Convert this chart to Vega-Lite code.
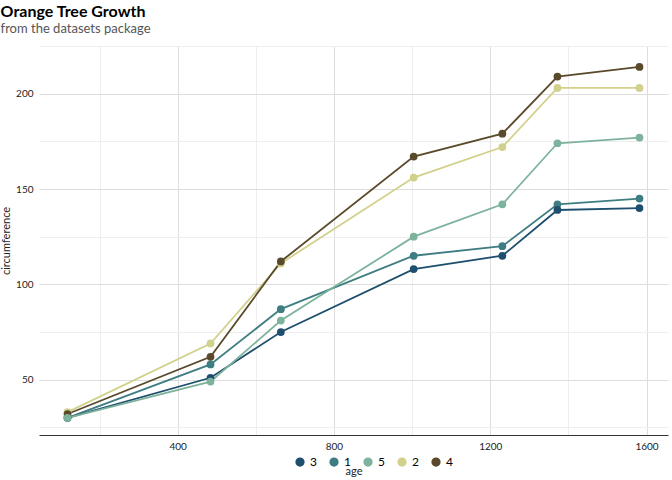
{
  "$schema": "https://vega.github.io/schema/vega-lite/v6.json",
  "width": 672,
  "height": 480,
  "autosize": {"type": "fit", "contains": "padding"},
  "padding": {"left": 0, "right": 4, "top": 4, "bottom": 4},
  "title": {
    "text": "Orange Tree Growth",
    "subtitle": "from the datasets package",
    "anchor": "start",
    "frame": "bounds",
    "offset": 10,
    "font": "Lato",
    "fontSize": 16,
    "fontWeight": "bold",
    "subtitleFont": "Lato",
    "subtitleFontSize": 13,
    "subtitleColor": "#555555"
  },
  "config": {
    "view": {"stroke": null},
    "font": "Lato",
    "axis": {"gridColor": "#dddddd", "labelColor": "#222222", "titleColor": "#222222", "titleFontWeight": "normal", "titleFontSize": 11, "labelFontSize": 10, "ticks": false, "domain": false}
  },
  "data": {
    "values": [
      {"Tree": "1", "age": 118, "circumference": 30},
      {"Tree": "1", "age": 484, "circumference": 58},
      {"Tree": "1", "age": 664, "circumference": 87},
      {"Tree": "1", "age": 1004, "circumference": 115},
      {"Tree": "1", "age": 1231, "circumference": 120},
      {"Tree": "1", "age": 1372, "circumference": 142},
      {"Tree": "1", "age": 1582, "circumference": 145},
      {"Tree": "2", "age": 118, "circumference": 33},
      {"Tree": "2", "age": 484, "circumference": 69},
      {"Tree": "2", "age": 664, "circumference": 111},
      {"Tree": "2", "age": 1004, "circumference": 156},
      {"Tree": "2", "age": 1231, "circumference": 172},
      {"Tree": "2", "age": 1372, "circumference": 203},
      {"Tree": "2", "age": 1582, "circumference": 203},
      {"Tree": "3", "age": 118, "circumference": 30},
      {"Tree": "3", "age": 484, "circumference": 51},
      {"Tree": "3", "age": 664, "circumference": 75},
      {"Tree": "3", "age": 1004, "circumference": 108},
      {"Tree": "3", "age": 1231, "circumference": 115},
      {"Tree": "3", "age": 1372, "circumference": 139},
      {"Tree": "3", "age": 1582, "circumference": 140},
      {"Tree": "4", "age": 118, "circumference": 32},
      {"Tree": "4", "age": 484, "circumference": 62},
      {"Tree": "4", "age": 664, "circumference": 112},
      {"Tree": "4", "age": 1004, "circumference": 167},
      {"Tree": "4", "age": 1231, "circumference": 179},
      {"Tree": "4", "age": 1372, "circumference": 209},
      {"Tree": "4", "age": 1582, "circumference": 214},
      {"Tree": "5", "age": 118, "circumference": 30},
      {"Tree": "5", "age": 484, "circumference": 49},
      {"Tree": "5", "age": 664, "circumference": 81},
      {"Tree": "5", "age": 1004, "circumference": 125},
      {"Tree": "5", "age": 1231, "circumference": 142},
      {"Tree": "5", "age": 1372, "circumference": 174},
      {"Tree": "5", "age": 1582, "circumference": 177}
    ]
  },
  "encoding": {
    "x": {"field": "age", "type": "quantitative", "scale": {"domain": [45, 1655], "nice": false, "zero": false},
      "axis": {"values": [200, 400, 600, 800, 1000, 1200, 1400, 1600], "format": "d", "labelExpr": "datum.value % 400 == 0 ? datum.label : ''", "gridColor": {"condition": {"test": "datum.value % 400 == 0", "value": "#dddddd"}, "value": "#eeeeee"}, "domain": true, "domainColor": "#333333", "titlePadding": 14, "labelPadding": 6}},
    "y": {"field": "circumference", "type": "quantitative", "scale": {"domain": [21, 225], "nice": false, "zero": false},
      "axis": {"values": [25, 50, 75, 100, 125, 150, 175, 200, 225], "labelExpr": "datum.value % 50 == 0 ? datum.label : ''", "gridColor": {"condition": {"test": "datum.value % 50 == 0", "value": "#dddddd"}, "value": "#eeeeee"}, "labelPadding": 6}},
    "color": {
      "field": "Tree", "type": "nominal",
      "scale": {"domain": ["3", "1", "5", "2", "4"], "range": ["#1f4f6e", "#3e7d82", "#7db39c", "#d2d18b", "#5a4a2b"]},
      "legend": {"orient": "none", "legendX": 255, "legendY": 410, "direction": "horizontal", "title": null, "symbolType": "circle", "labelFontSize": 12, "symbolSize": 60}
    }
  },
  "layer": [
    {"mark": {"type": "line", "strokeWidth": 1.8}},
    {"mark": {"type": "point", "filled": true, "size": 60, "opacity": 1}}
  ]
}
